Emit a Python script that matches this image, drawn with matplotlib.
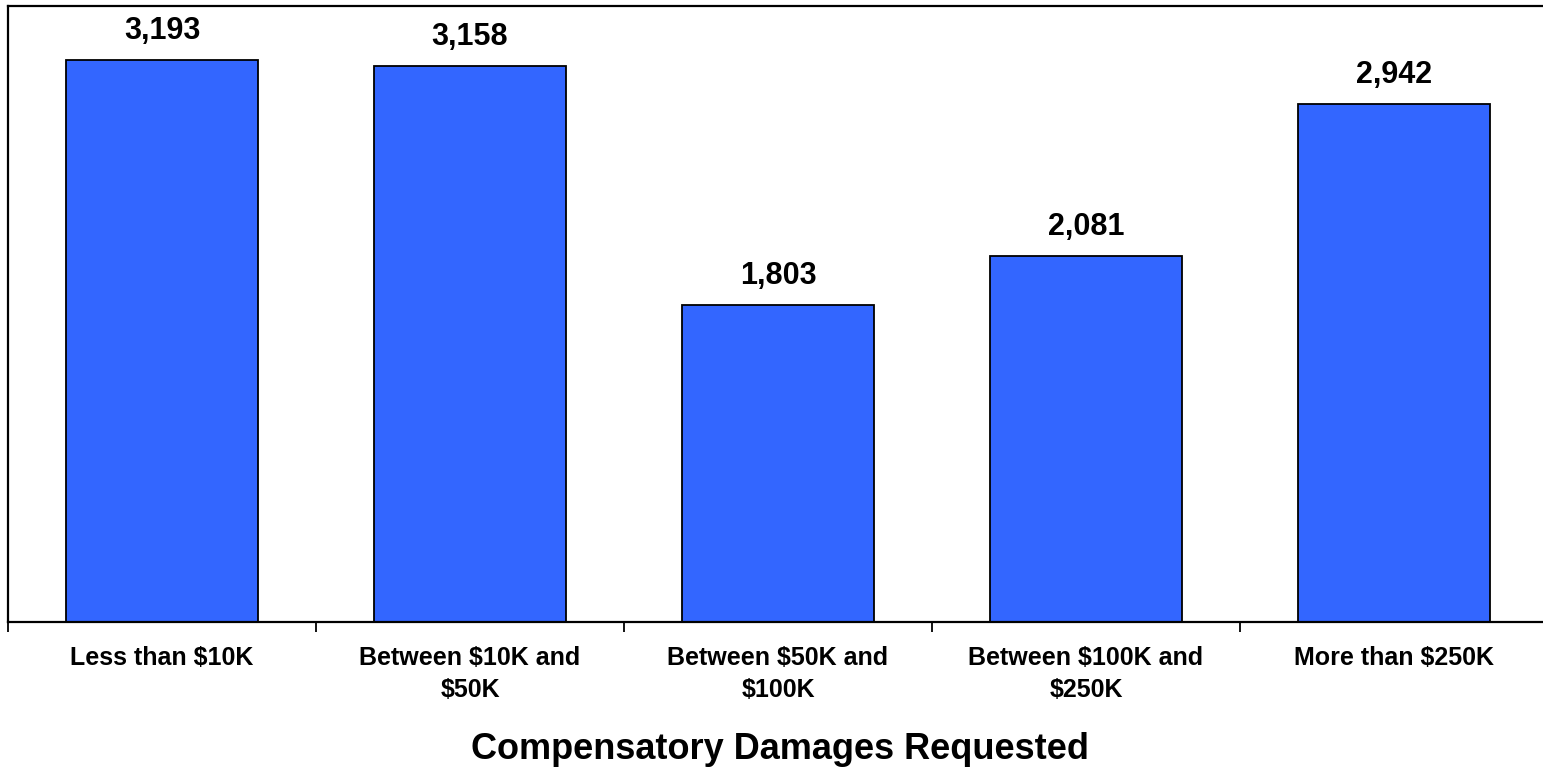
import matplotlib
matplotlib.use("Agg")
import matplotlib.pyplot as plt
from matplotlib.ticker import FixedLocator

categories = ["Less than $10K", "Between $10K and\n$50K", "Between $50K and\n$100K",
              "Between $100K and\n$250K", "More than $250K"]
counts = [3193, 3158, 1803, 2081, 2942]
x_title = "Compensatory Damages Requested"

plt.rcParams["font.family"] = ["Liberation Sans", "DejaVu Sans"]
plt.rcParams["font.weight"] = "bold"

W, H = 1543, 771
fig = plt.figure(figsize=(W / 100, H / 100), dpi=100)
left, right, top, bottom = 8, 1548, 6, 622
ax = fig.add_axes([left / W, (H - bottom) / H, (right - left) / W, (bottom - top) / H])

xs = list(range(len(counts)))
bars = ax.bar(xs, counts, width=0.623, color="#3366FF", edgecolor="black", linewidth=1.3, zorder=2)

for b, v in zip(bars, counts):
    ax.annotate(f"{v:,}", (b.get_x() + b.get_width() / 2, v), xytext=(0, 15),
                textcoords="offset points", ha="center", va="baseline",
                fontsize=22, fontweight="bold")

ax.set_xlim(-0.5, len(counts) - 0.5)
ax.set_ylim(0, 3500)
ax.set_yticks([])

ax.xaxis.set_major_locator(FixedLocator([i - 0.5 for i in range(len(counts) + 1)]))
ax.xaxis.set_minor_locator(FixedLocator(xs))
ax.set_xticklabels([], minor=False)
ax.set_xticklabels(categories, minor=True, fontsize=18, fontweight="bold", linespacing=1.45)
ax.tick_params(axis="x", which="major", direction="out", length=7, width=1.3)
ax.tick_params(axis="x", which="minor", length=0, pad=17)

for s in ax.spines.values():
    s.set_linewidth(1.6)
    s.set_color("black")

fig.text(780 / W, (H - 759) / H, x_title, ha="center", va="baseline", fontsize=26, fontweight="bold")

fig.savefig("out.png", dpi=100)
